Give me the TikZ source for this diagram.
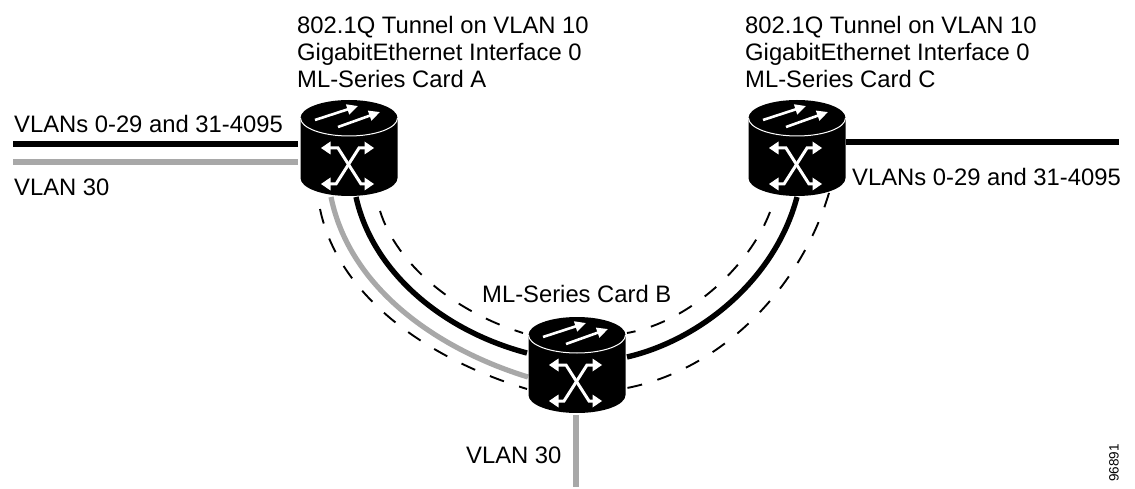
\documentclass[tikz,border=0pt]{standalone}
\usepackage{fontspec}
\setmainfont{Liberation Sans}
\usetikzlibrary{arrows.meta}
\tikzset{
  x=1pt,y=-1pt,
  lbl/.style={font=\fontsize{23.8}{27}\selectfont,inner sep=0pt,anchor=base west},
  lblm/.style={font=\fontsize{23.8}{27}\selectfont,inner sep=0pt,align=left,anchor=north west},
  routerbox/.style={minimum width=97pt,minimum height=96pt,inner sep=0pt,draw=none},
  blackline/.style={line width=5.4pt,black},
  grayline/.style={line width=5.2pt,black!34},
  dashline/.style={line width=1.9pt,black,dash pattern=on 15pt off 16pt},
  wharrowone/.style={white,line width=2.6pt,-{Triangle[length=11pt,width=10pt]}},
  pics/router/.style={code={
    \fill[black] (-48.5,-30) -- (-48.5,30) arc[start angle=180,end angle=0,x radius=48.5,y radius=18] -- (48.5,-30) arc[start angle=0,end angle=-180,x radius=48.5,y radius=18] -- cycle;
    \draw[white,line width=1pt] (-48.5,-30) arc[start angle=180,end angle=0,x radius=48.5,y radius=18];
    \draw[wharrowone] (-34,-28) -- (9,-42);
    \draw[wharrowone] (-11,-21) -- (31,-36);
    \draw[white,line width=3pt] (-22,0) -- (-11,0) -- (12,36) -- (21,36);
    \draw[white,line width=3pt] (21,0) -- (10,0) -- (-13,36) -- (-22,36);
    \foreach \sy in {0,36}{
      \fill[white] (-28,\sy) -- (-18.5,\sy-6.5) -- (-18.5,\sy+6.5) -- cycle;
      \fill[white] (25,\sy) -- (15.5,\sy-6.5) -- (15.5,\sy+6.5) -- cycle;}
  }}
}
\begin{document}
\begin{tikzpicture}
\useasboundingbox (0,0) rectangle (1135,489);
\node[routerbox] (A) at (349,148) {};
\node[routerbox] (B) at (577,365) {};
\node[routerbox] (C) at (797,148) {};
\coordinate (l1) at (13,144);
\coordinate (l2) at (13,162);
\coordinate (a5) at (298,144);
\coordinate (a6) at (298,162);
\coordinate (r1) at (1119,142);
\coordinate (r0) at (846,142);
\coordinate (b1) at (576,487);
\coordinate (b0) at (576,415);
\draw[blackline] (l1) -- (a5);
\draw[grayline] (l2) -- (a6);
\draw[blackline] (r0) -- (r1);
\draw[grayline] (b0) -- (b1);
% curves
\coordinate (a1) at (356,197);\coordinate (b2) at (527,353);
\draw[blackline] (a1) .. controls (372,270) and (440,330) .. (b2);
\coordinate (a2) at (331,197);\coordinate (b3) at (528,377);
\draw[grayline] (a2) .. controls (350,290) and (440,350) .. (b3);
\coordinate (a3) at (320,209);\coordinate (b4) at (527,389);
\draw[dashline] (a3) .. controls (338,295) and (425,358) .. (b4);
\coordinate (a4) at (380,211);\coordinate (b5) at (523,333);
\draw[dashline] (a4) .. controls (397,265) and (455,312) .. (b5);
\coordinate (c1) at (797,197);\coordinate (b6) at (627,357);
\draw[blackline] (b6) .. controls (700,340) and (775,280) .. (c1);
\coordinate (c2) at (770,212);\coordinate (b7) at (627,333);
\draw[dashline] (c2) .. controls (750,265) and (690,322) .. (b7);
\coordinate (c3) at (829,193);\coordinate (b8) at (627,388);
\draw[dashline] (c3) .. controls (800,290) and (720,370) .. (b8);
\pic at (A) {router};
\pic at (B) {router};
\pic at (C) {router};
\node[lblm] (t1) at (297,16) {802.1Q Tunnel on VLAN 10\\GigabitEthernet Interface 0\\ML-Series Card A};
\node[lblm] (t2) at (745,16) {802.1Q Tunnel on VLAN 10\\GigabitEthernet Interface 0\\ML-Series Card C};
\node[lbl] (t3) at (14,133) {VLANs 0-29 and 31-4095};
\node[lbl] (t4) at (14,196) {VLAN 30};
\node[lbl] (t5) at (852,186) {VLANs 0-29 and 31-4095};
\node[lbl] (t6) at (482,302) {ML-Series Card B};
\node[lbl] (t7) at (466,463) {VLAN 30};
\node[font=\fontsize{13.5}{14}\selectfont,rotate=90,inner sep=0pt] (t8) at (1114,463) {96891};
\end{tikzpicture}
\end{document}
